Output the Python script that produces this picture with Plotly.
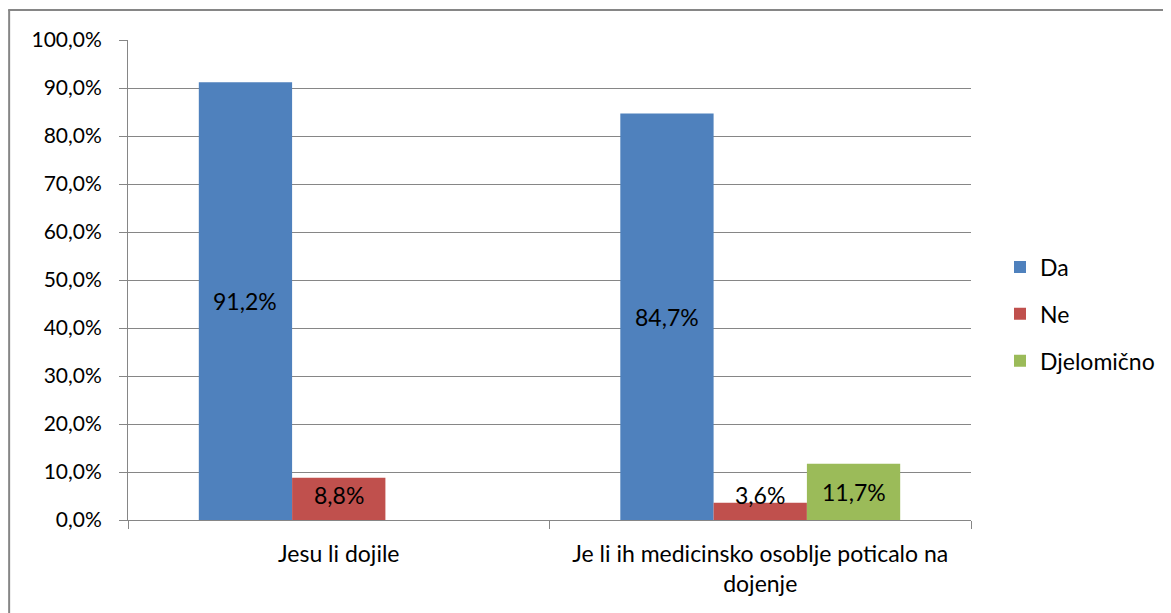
import plotly.graph_objects as go

categories = ["Jesu li dojile", "Je li ih medicinsko osoblje poticalo na<br>dojenje"]
series_names = ["Da", "Ne", "Djelomično"]
series_colors = ["#4F81BD", "#C0504D", "#9BBB59"]
da_values = [91.2, 84.7]
ne_values = [8.8, 3.6]
djel_values = [None, 11.7]
y_ticks = [0, 10, 20, 30, 40, 50, 60, 70, 80, 90, 100]
y_tick_labels = ["0,0%", "10,0%", "20,0%", "30,0%", "40,0%", "50,0%", "60,0%", "70,0%", "80,0%", "90,0%", "100,0%"]

# page body has an 8px margin: figure spans page x 8..1171, y 8..613
OFF = 8
W, H = 1171 - OFF, 613 - OFF
L, R, T, B = 128 - OFF, 972 - OFF, 40 - OFF, 520 - OFF
FONT = "Lato, Open Sans, sans-serif"
FS = 23
FS_Y = 21

fig = go.Figure()
all_values = [da_values, ne_values, djel_values]
for i, (name, color, vals) in enumerate(zip(series_names, series_colors, all_values)):
    fig.add_trace(go.Bar(
        name=name, x=categories, y=vals, marker_color=color,
        marker_line_width=0, offsetgroup=str(i), legendgroup=name,
    ))

# data labels
annotations = []
n = len(series_names)
for i, vals in enumerate(all_values):
    for j, v in enumerate(vals):
        if v is None:
            continue
        xpos = j + (i - (n - 1) / 2) * (1 - 0.336) / n
        annotations.append(dict(
            x=xpos, y=max(v / 2, 5.2), xref="x", yref="y",
            text=("%.1f%%" % v).replace(".", ","), showarrow=False,
            font=dict(family=FONT, size=FS, color="#000000"),
        ))

pw, ph = R - L, B - T
fig.update_layout(
    width=W, height=H,
    margin=dict(l=L, r=W - R, t=T, b=H - B, pad=0),
    paper_bgcolor="white", plot_bgcolor="white",
    barmode="group", bargap=0.336, bargroupgap=0,
    font=dict(family=FONT, size=FS, color="#000000"),
    legend=dict(
        x=(1000 - 128) / 844, y=(520 - 314) / 480, xanchor="left", yanchor="middle",
        font=dict(family=FONT, size=FS), tracegroupgap=14,
        bgcolor="rgba(0,0,0,0)",
    ),
    annotations=annotations,
    shapes=[
        dict(type="line", xref="paper", yref="paper",
             x0=(0 - L) / pw, x1=(W + 10 - L) / pw,
             y0=(B - 2) / ph, y1=(B - 2) / ph,
             line=dict(color="#868686", width=2)),
        dict(type="line", xref="paper", yref="paper",
             x0=(1 - L) / pw, x1=(1 - L) / pw,
             y0=(B - 2) / ph, y1=-(H - B + 10) / ph,
             line=dict(color="#868686", width=2)),
    ],
)
fig.update_xaxes(
    type="category", showline=True, linecolor="#868686", linewidth=1,
    ticks="outside", tickson="boundaries", ticklen=8, tickcolor="#868686",
    showgrid=False, tickfont=dict(family=FONT, size=FS), ticklabelstandoff=13,
)
fig.update_yaxes(
    range=[0, 100], tickvals=y_ticks, ticktext=y_tick_labels,
    showline=True, linecolor="#868686", linewidth=1,
    ticks="outside", ticklen=8, tickcolor="#868686",
    showgrid=True, gridcolor="#868686", gridwidth=1, zeroline=False,
    tickfont=dict(family=FONT, size=FS_Y), ticklabelstandoff=13,
)

fig.write_html("out.html")
